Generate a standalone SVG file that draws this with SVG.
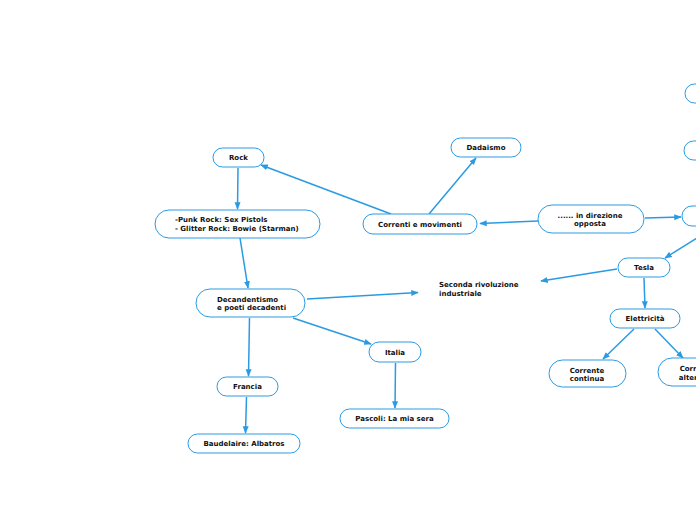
<svg xmlns="http://www.w3.org/2000/svg" width="696" height="520" viewBox="0 0 696 520">
<style>
.n{fill:#fff;stroke:#2a9be3;stroke-width:1}
.t{font-family:"DejaVu Sans",Verdana,sans-serif;font-weight:bold;font-size:7px;fill:#111}
.c{stroke:#2a9be3;stroke-width:1.5;fill:none;marker-end:url(#a)}
</style>
<defs>
<marker id="a" viewBox="0 0 10 10" refX="9" refY="5" markerWidth="5" markerHeight="5" orient="auto" markerUnits="strokeWidth">
<path d="M0,1 L10,5 L0,9 Z" fill="#2a9be3"/>
</marker>
</defs>
<rect width="696" height="520" fill="#fff"/>
<g id="connectors">
<line class="c" x1="391" y1="214" x2="261" y2="165"/>
<line class="c" x1="429" y1="214" x2="476" y2="158"/>
<line class="c" x1="538" y1="221" x2="480" y2="223.5"/>
<line class="c" x1="645" y1="218" x2="681" y2="217"/>
<line class="c" x1="700" y1="236" x2="665" y2="258"/>
<line class="c" x1="617" y1="269" x2="541" y2="281"/>
<line class="c" x1="644" y1="278" x2="645" y2="308"/>
<line class="c" x1="634" y1="329" x2="603" y2="359"/>
<line class="c" x1="655" y1="329" x2="683" y2="358"/>
<line class="c" x1="238" y1="168" x2="237.5" y2="209"/>
<line class="c" x1="240" y1="238" x2="248" y2="288"/>
<line class="c" x1="307" y1="299" x2="418" y2="292.5"/>
<line class="c" x1="293" y1="318" x2="371" y2="344"/>
<line class="c" x1="249.5" y1="318" x2="248.5" y2="376"/>
<line class="c" x1="246.5" y1="397" x2="245.5" y2="433"/>
<line class="c" x1="395.5" y1="363" x2="395" y2="408"/>
</g>
<g id="rock"><rect class="n" x="213" y="148" width="51" height="19" rx="9.5"/><text class="t" x="238.5" y="160" text-anchor="middle">Rock</text></g>
<g id="punk"><rect class="n" x="155" y="210" width="165" height="28" rx="14"/><text class="t" x="175" y="222">-Punk Rock: Sex Pistols</text><text class="t" x="175" y="231">- Glitter Rock: Bowie (Starman)</text></g>
<g id="correnti"><rect class="n" x="363" y="214" width="114" height="20" rx="10"/><text class="t" x="420" y="226.5" text-anchor="middle">Correnti e movimenti</text></g>
<g id="dadaismo"><rect class="n" x="451" y="138" width="70" height="19" rx="9.5"/><text class="t" x="486" y="150" text-anchor="middle">Dadaismo</text></g>
<g id="direzione"><rect class="n" x="538" y="205" width="106" height="28" rx="14"/><text class="t" x="590" y="218" text-anchor="middle">...... in direzione</text><text class="t" x="590" y="226" text-anchor="middle">opposta</text></g>
<g id="r1"><rect class="n" x="685" y="84" width="40" height="19" rx="9.5"/></g>
<g id="r2"><rect class="n" x="684" y="141" width="40" height="19" rx="9.5"/></g>
<g id="r3"><rect class="n" x="682" y="206" width="40" height="20" rx="10"/></g>
<g id="tesla"><rect class="n" x="618" y="258" width="52" height="19" rx="9.5"/><text class="t" x="644" y="270" text-anchor="middle">Tesla</text></g>
<g id="elettricita"><rect class="n" x="610" y="309" width="70" height="19" rx="9.5"/><text class="t" x="645" y="321" text-anchor="middle">Elettricità</text></g>
<g id="continua"><rect class="n" x="549" y="360" width="77" height="27" rx="13.5"/><text class="t" x="587" y="372.5" text-anchor="middle">Corrente</text><text class="t" x="587" y="381" text-anchor="middle">continua</text></g>
<g id="alternata"><rect class="n" x="658" y="358" width="80" height="28" rx="14"/><text class="t" x="697" y="371" text-anchor="middle">Corrente</text><text class="t" x="697" y="380" text-anchor="middle">alternata</text></g>
<g id="decadentismo"><rect class="n" x="196" y="289" width="109" height="28" rx="14"/><text class="t" x="217" y="301.5">Decandentismo</text><text class="t" x="217" y="310">e poeti decadenti</text></g>
<g id="seconda"><text class="t" x="439" y="287">Seconda rivoluzione</text><text class="t" x="439" y="296">industriale</text></g>
<g id="italia"><rect class="n" x="369" y="342" width="52" height="20" rx="10"/><text class="t" x="395" y="354.5" text-anchor="middle">Italia</text></g>
<g id="francia"><rect class="n" x="217" y="377" width="61" height="19" rx="9.5"/><text class="t" x="247.5" y="389" text-anchor="middle">Francia</text></g>
<g id="baudelaire"><rect class="n" x="188" y="434" width="112" height="19" rx="9.5"/><text class="t" x="244" y="446" text-anchor="middle">Baudelaire: Albatros</text></g>
<g id="pascoli"><rect class="n" x="340" y="409" width="109" height="19" rx="9.5"/><text class="t" x="394.5" y="421" text-anchor="middle">Pascoli: La mia sera</text></g>
</svg>
